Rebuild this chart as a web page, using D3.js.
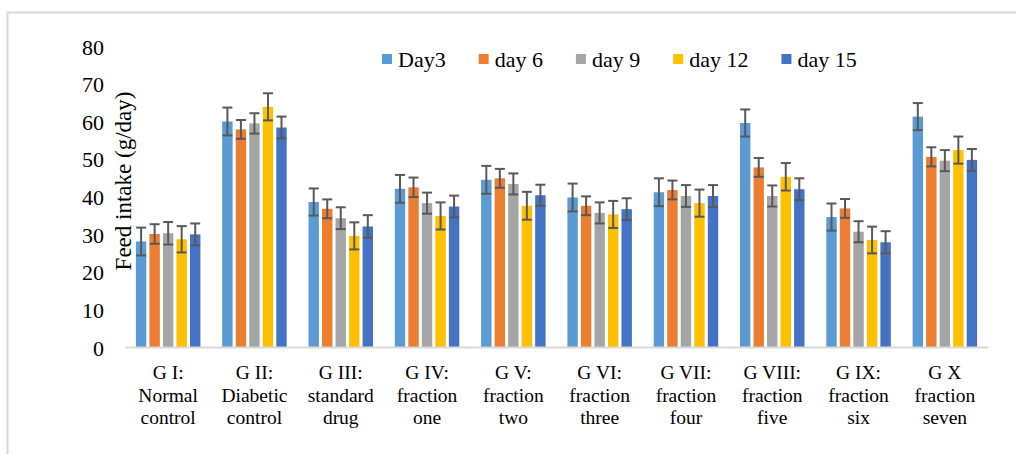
<!DOCTYPE html>
<html>
<head>
<meta charset="utf-8">
<script src="https://cdn.jsdelivr.net/npm/d3@7"></script>
<style>
  body { margin: 0; background: #fff; }
</style>
</head>
<body>
<div id="chart"></div>
<script>
// groups (x axis, one row per line)
var categories = ["G I:\nNormal\ncontrol", "G II:\nDiabetic\ncontrol", "G III:\nstandard\ndrug", "G IV:\nfraction\none",
  "G V:\nfraction\ntwo", "G VI:\nfraction\nthree", "G VII:\nfraction\nfour", "G VIII:\nfraction\nfive",
  "G IX:\nfraction\nsix", "G X\nfraction\nseven"];
var seriesNames = ["Day3", "day 6", "day 9", "day 12", "day 15"];
var colors = ["#5b9bd5", "#ed7d31", "#a5a5a5", "#ffc000", "#4472c4"];

// feed intake g/day
var day3  = [28.3, 60.2, 38.8, 42.3, 44.7, 40.0, 41.4, 59.8, 34.8, 61.5];
var day6  = [30.3, 58.1, 37.0, 42.7, 45.1, 37.8, 42.0, 48.0, 37.1, 50.8];
var day9  = [30.5, 59.7, 34.5, 38.5, 43.6, 35.9, 40.4, 40.4, 30.9, 49.8];
var day12 = [28.9, 64.1, 29.8, 35.1, 37.8, 35.5, 38.5, 45.5, 28.7, 52.6];
var day15 = [30.2, 58.6, 32.3, 37.6, 40.6, 36.9, 40.4, 42.2, 28.1, 50.0];

// error bars (+/-)
var err3  = [3.7, 3.7, 3.6, 3.7, 3.7, 3.7, 3.7, 3.6, 3.6, 3.6];
var err6  = [2.6, 2.5, 2.5, 2.6, 2.5, 2.5, 2.5, 2.5, 2.5, 2.55];
var err9  = [3.0, 2.7, 2.9, 2.8, 2.8, 2.8, 2.9, 2.8, 2.8, 2.8];
var err12 = [3.5, 3.6, 3.6, 3.6, 3.7, 3.6, 3.6, 3.65, 3.55, 3.6];
var err15 = [2.9, 2.9, 3.0, 2.9, 2.8, 2.9, 2.9, 2.9, 2.95, 2.9];

var yTicks = [0, 10, 20, 30, 40, 50, 60, 70, 80];

var values = [day3, day6, day9, day12, day15];
var errors = [err3, err6, err9, err12, err15];

var W = 1016, H = 454;
var serif = "'Liberation Serif', 'Times New Roman', serif";
var svg = d3.select("#chart").append("svg").attr("width", W).attr("height", H);

svg.append("rect").attr("width", W).attr("height", H).attr("fill", "#fff");
// outer frame (only top and left visible)
svg.append("rect").attr("x", 7.5).attr("y", 12.5).attr("width", W + 20).attr("height", H + 20)
  .attr("fill", "none").attr("stroke", "#d9d9d9").attr("stroke-width", 2);

var x0 = d3.scaleBand().domain(categories).range([125, 988]);
var x1 = d3.scaleBand().domain(seriesNames).range([0, 64.5]).paddingInner(0.23).paddingOuter(0);
var y = d3.scaleLinear().domain([0, 80]).range([348, 47]);

// y axis labels
var yAxis = svg.append("g").attr("transform", "translate(125,0)")
  .call(d3.axisLeft(y).tickValues(yTicks).tickSize(0).tickPadding(21));
yAxis.attr("font-family", serif);
yAxis.select(".domain").remove();
yAxis.selectAll("text").style("font-family", serif).style("font-size", "22px").attr("fill", "#000");

svg.append("text").attr("transform", "rotate(-90)").attr("x", -181).attr("y", 131)
  .attr("text-anchor", "middle").style("font-family", serif).style("font-size", "23px").text("Feed intake (g/day)");

// bars
var rows = [];
categories.forEach(function(c, i) {
  seriesNames.forEach(function(s, j) {
    rows.push({cat: c, series: s, j: j, v: values[j][i], e: errors[j][i]});
  });
});

var gx = function(d) { return x0(d.cat) + (x0.bandwidth() - 64.5) / 2 + x1(d.series); };

svg.append("g").selectAll("rect").data(rows).join("rect")
  .attr("x", gx).attr("width", x1.bandwidth())
  .attr("y", d => y(d.v)).attr("height", d => y(0) - y(d.v))
  .attr("fill", d => colors[d.j]);

// x axis
var xAxis = svg.append("g").attr("transform", "translate(0,347)")
  .call(d3.axisBottom(x0).tickSize(0).tickSizeOuter(0));
xAxis.attr("font-family", serif);
xAxis.select(".domain").attr("stroke", "#d9d9d9").attr("stroke-width", 2);
xAxis.selectAll(".tick text").each(function(d) {
  var t = d3.select(this).attr("y", 0).attr("dy", null).style("font-family", serif).style("font-size", "19.5px").attr("fill", "#000").text(null);
  d.split("\n").forEach(function(line, k) {
    t.append("tspan").attr("x", 0).attr("y", 32 + k * 22.5).text(line);
  });
});

// error bars
var eb = svg.append("g").attr("stroke", "#595959").attr("stroke-width", 2).attr("fill", "none");
rows.forEach(function(d) {
  var cx = gx(d) + x1.bandwidth() / 2;
  eb.append("line").attr("x1", cx).attr("x2", cx).attr("y1", y(d.v + d.e)).attr("y2", y(d.v - d.e));
  [d.v + d.e, d.v - d.e].forEach(function(v) {
    eb.append("line").attr("x1", cx - 5).attr("x2", cx + 5).attr("y1", y(v)).attr("y2", y(v));
  });
});

// legend
var lx = 382;
seriesNames.forEach(function(s, j) {
  svg.append("rect").attr("x", lx).attr("y", 54).attr("width", 10).attr("height", 10).attr("fill", colors[j]);
  var t = svg.append("text").attr("x", lx + 16).attr("y", 67).style("font-family", serif).style("font-size", "22px").text(s);
  lx += 16 + t.node().getComputedTextLength() + 33;
});
</script>
</body>
</html>
